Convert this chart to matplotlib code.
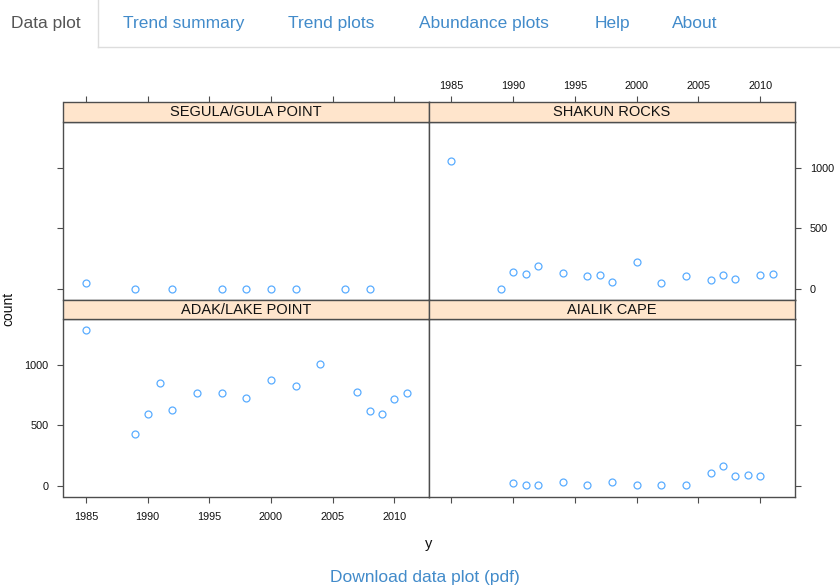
import matplotlib
matplotlib.use("Agg")
from matplotlib import pyplot as plt

plt.rcParams["font.family"] = ["Liberation Sans", "DejaVu Sans"]

W, H = 840, 587

# counts per site and survey year
segula_years = [1985, 1989, 1992, 1996, 1998, 2000, 2002, 2006, 2008]
segula_counts = [50, 0, 0, 0, 0, 0, 0, 0, 0]

shakun_years = [1985, 1989, 1990, 1991, 1992, 1994, 1996, 1997, 1998, 2000,
                2002, 2004, 2006, 2007, 2008, 2010, 2011]
shakun_counts = [1054, 0, 140, 126, 192, 129, 107, 112, 58, 225,
                 47, 107, 69, 115, 82, 118, 126]

adak_years = [1985, 1989, 1990, 1991, 1992, 1994, 1996, 1998, 2000, 2002,
              2004, 2007, 2008, 2009, 2010, 2011]
adak_counts = [1288, 425, 592, 846, 624, 767, 767, 726, 873, 822,
               1008, 778, 622, 594, 715, 764]

aialik_years = [1990, 1991, 1992, 1994, 1996, 1998, 2000, 2002, 2004,
                2006, 2007, 2008, 2009, 2010]
aialik_counts = [27, 3, 5, 30, 5, 30, 3, 8, 3, 104, 161, 79, 90, 77]

tab_labels = ["Data plot", "Trend summary", "Trend plots", "Abundance plots", "Help", "About"]
tab_x = [11, 123, 288, 419, 595, 672]

x_ticks = [1985, 1990, 1995, 2000, 2005, 2010]
y_ticks = [0, 500, 1000]

all_years = segula_years + shakun_years + adak_years + aialik_years
all_counts = segula_counts + shakun_counts + adak_counts + aialik_counts
xpad = 0.07 * (max(all_years) - min(all_years))
ypad = 0.07 * (max(all_counts) - min(all_counts))
xlim = (min(all_years) - xpad, max(all_years) + xpad)
ylim = (min(all_counts) - ypad, max(all_counts) + ypad)

fig = plt.figure(figsize=(W / 100, H / 100), dpi=100)
fig.patch.set_facecolor("white")


def px_axes(x0, y0, x1, y1):
    return fig.add_axes([x0 / W, 1 - y1 / H, (x1 - x0) / W, (y1 - y0) / H])


frame_col = "#4d4d4d"
tick_kw = dict(length=4.2, width=0.8, color=frame_col, labelsize=7.8,
               labelcolor="#111111", direction="out", pad=6.5)

# panel layout: (years, counts, name, column, row)
panels = [
    (segula_years, segula_counts, "SEGULA/GULA POINT", 0, 0),
    (shakun_years, shakun_counts, "SHAKUN ROCKS", 1, 0),
    (adak_years, adak_counts, "ADAK/LAKE POINT", 0, 1),
    (aialik_years, aialik_counts, "AIALIK CAPE", 1, 1),
]
col_x = [(63.5, 429), (429, 795)]
row_y = [(102, 122, 299.7), (299.7, 319, 496.7)]

for years, counts, name, c, r in panels:
    x0, x1 = col_x[c]
    s0, p0, p1 = row_y[r]

    ax = px_axes(x0, p0, x1, p1)
    ax.plot(years, counts, "o", mfc="none", mec="#0080ff", mew=0.9,
            ms=5.0, alpha=0.65)
    ax.set_xlim(xlim)
    ax.set_ylim(ylim)
    ax.set_xticks(x_ticks)
    ax.set_yticks(y_ticks)
    for sp in ax.spines.values():
        sp.set_color(frame_col)
        sp.set_linewidth(1.0)
    ax.tick_params(**tick_kw)
    # alternating axes as in a lattice layout
    ax.tick_params(axis="x", bottom=(r == 1), top=False,
                   labelbottom=(r == 1 and c == 0), labeltop=False)
    ax.tick_params(axis="y", left=(c == 0), right=(c == 1),
                   labelleft=(c == 0 and r == 1),
                   labelright=(c == 1 and r == 0))

    st = px_axes(x0, s0, x1, p0)
    st.set_facecolor("#ffe5cc")
    st.set_xlim(xlim)
    st.set_ylim(0, 1)
    st.set_yticks([])
    for sp in st.spines.values():
        sp.set_color(frame_col)
        sp.set_linewidth(1.0)
    if r == 0:
        st.set_xticks(x_ticks)
        st.tick_params(**tick_kw)
        st.tick_params(axis="x", bottom=False, labelbottom=False, top=True,
                       labeltop=(c == 1), pad=4)
    else:
        st.set_xticks([])
    st.text(0.5, 0.48, name, transform=st.transAxes, ha="center",
            va="center", fontsize=10.5, color="#111111")

fig.text(8 / W, 1 - 309 / H, "count", rotation=90, ha="center", va="center",
         fontsize=10, color="#111111")
fig.text(429 / W, 1 - 544 / H, "y", ha="center", va="center",
         fontsize=10.5, color="#111111")

# navigation tabs and link
fig.add_artist(plt.Line2D([98 / W, 98 / W], [1, 1 - 47 / H], color="#dddddd", lw=1))
fig.add_artist(plt.Line2D([98 / W, 1], [1 - 47 / H, 1 - 47 / H], color="#dddddd", lw=1))
for i, (lab, x) in enumerate(zip(tab_labels, tab_x)):
    fig.text(x / W, 1 - 28 / H, lab, ha="left", va="baseline", fontsize=12.5,
             color="#555555" if i == 0 else "#428bca")

fig.text(425 / W, 1 - 582 / H, "Download data plot (pdf)", ha="center",
         va="baseline", fontsize=12.5, color="#428bca")

fig.savefig("out.png", dpi=100, facecolor="white")
